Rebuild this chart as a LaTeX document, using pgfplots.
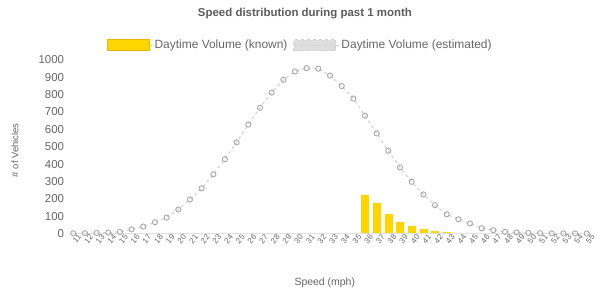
\documentclass[border=0pt]{standalone}
\usepackage{pgfplots}
\pgfplotsset{compat=1.18}
\usepackage{fontspec}
\setmainfont{Liberation Sans}
\definecolor{txt}{HTML}{666666}
\definecolor{gold}{HTML}{FFD500}
\definecolor{goldb}{HTML}{E8B400}
\definecolor{estm}{HTML}{A8A8A8}
\definecolor{estl}{HTML}{D0D0D0}
\begin{document}
\begin{tikzpicture}
\useasboundingbox (0,0) rectangle (597bp,294bp);
\begin{axis}[
  at={(68.6bp,60.5bp)}, anchor=south west,
  scale only axis, width=522.8bp, height=173.5bp,
  xmin=10.6, xmax=55.4, ymin=0, ymax=1000,
  xtick={11,...,55}, ytick={0,100,...,1000},
  /pgf/number format/assume math mode=true,
  /pgf/number format/1000 sep={},
  axis line style={draw=none}, major tick length=0pt,
  tick label style={color=txt},
  yticklabel style={font=\fontsize{11.5}{13}\selectfont, xshift=-1bp},
  xticklabel style={font=\fontsize{8}{9}\selectfont, rotate=50, anchor=north east, inner sep=0.2bp, xshift=3bp, yshift=-3bp},
  title={Speed distribution during past 1 month},
  title style={font=\bfseries\fontsize{11.5}{13}\selectfont, color=txt!90!black, at={(axis description cs:0.452,1.277)}, anchor=center, yshift=-8bp},
  xlabel={Speed (mph)},
  xlabel style={font=\fontsize{10.5}{12}\selectfont, color=txt, at={(axis description cs:0.49,-0.285)}, anchor=center},
  ylabel={\# of Vehicles},
  ylabel style={font=\fontsize{9.5}{11}\selectfont, color=txt, at={(axis description cs:-0.1025,0.48)}, anchor=center, rotate=0},
  legend columns=2,
  legend style={draw=none, fill=none, at={(axis description cs:0.443,1.086)}, anchor=center,
    font=\fontsize{12}{13}\selectfont, text=txt,
    /tikz/every even column/.append style={column sep=4bp}},
]
\addplot[ybar, bar width=7bp, fill=gold, draw=gold, line width=0.5bp,
  legend image code/.code={\draw[fill=gold, draw=goldb, line width=1.2bp] (0bp,-5.5bp) rectangle (42bp,5.5bp); \path (0bp,0bp) -- (45bp,0bp);}]
  coordinates {(36,222) (37,176) (38,110) (39,64) (40,44) (41,25) (42,12) (43,5) (44,3) (45,1)};
\addlegendentry{Daytime Volume (known)}
\addplot[estl, dashed, line width=1bp, mark=o, mark size=2.6bp,
  mark options={solid, draw=estm, fill=white, line width=0.9bp},
  legend image code/.code={\draw[fill=estl!70, draw=estl, line width=1bp] (0bp,-5.5bp) rectangle (42bp,5.5bp); \path (0bp,0bp) -- (45bp,0bp);}]
  coordinates {
  (11,1) (12,2) (13,3) (14,5) (15,9) (16,24) (17,40) (18,65) (19,92) (20,138)
  (21,196) (22,260) (23,341) (24,428) (25,525) (26,628) (27,725) (28,812) (29,886) (30,934)
  (31,953) (32,950) (33,910) (34,850) (35,778) (36,679) (37,577) (38,477) (39,381) (40,298)
  (41,225) (42,163) (43,111) (44,82) (45,58) (46,30) (47,19) (48,10) (49,6) (50,3)
  (51,2) (52,1) (53,1) (54,0) (55,0)};
\addlegendentry{Daytime Volume (estimated)}
\draw[black!12] (axis cs:10.6,0) -- (axis cs:55.4,0);
\end{axis}
\end{tikzpicture}
\end{document}
